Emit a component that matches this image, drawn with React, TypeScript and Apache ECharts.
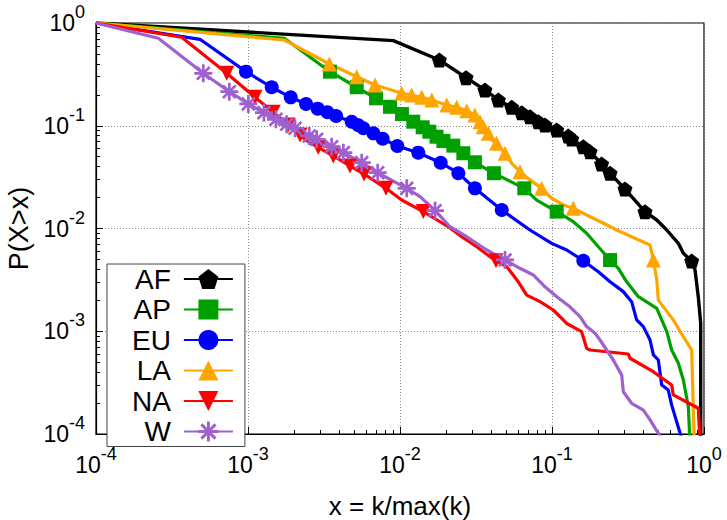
import React, { useEffect, useRef } from "react";
import * as echarts from "echarts";

// ---- data ----
const afX = [1e-4, 0.00904, 0.01815, 0.0272, 0.0362, 0.0444, 0.0543, 0.0632, 0.0716, 0.0813, 0.0899, 0.1074, 0.128, 0.1348, 0.1607, 0.178, 0.212, 0.241, 0.302, 0.409, 0.489, 0.569, 0.678, 0.731, 0.83, 0.873, 0.917, 0.951, 0.952];
const afY = [1, 0.673, 0.436, 0.294, 0.223, 0.178, 0.151, 0.134, 0.1225, 0.1095, 0.1017, 0.0909, 0.0795, 0.0743, 0.0625, 0.0559, 0.0425, 0.0345, 0.0242, 0.01458, 0.0121, 0.00967, 0.00717, 0.00573, 0.00482, 0.00394, 0.00217, 0.0012, 0.00008];
const afMarks = [2, 3, 4, 5, 6, 7, 8, 9, 10, 11, 12, 13, 14, 15, 16, 17, 18, 19, 24];

const apX = [1e-4, 0.001734, 0.00346, 0.00519, 0.00695, 0.00859, 0.0103, 0.01223, 0.0141, 0.0156, 0.0174, 0.0193, 0.02243, 0.0261, 0.0311, 0.0415, 0.0657, 0.0793, 0.1074, 0.138, 0.169, 0.2017, 0.241, 0.273, 0.31, 0.37, 0.489, 0.569, 0.613, 0.678, 0.731, 0.789, 0.809];
const apY = [1, 0.71, 0.336, 0.237, 0.185, 0.153, 0.13, 0.1095, 0.0966, 0.0875, 0.0782, 0.0711, 0.064, 0.054, 0.0441, 0.0345, 0.0246, 0.0189, 0.0146, 0.01165, 0.00898, 0.00665, 0.00493, 0.0041, 0.00303, 0.00217, 0.00167, 0.00099, 0.000657, 0.000488, 0.000336, 0.000184, 0.00008];
const apMarks = [2, 3, 4, 5, 6, 7, 8, 9, 10, 11, 12, 13, 14, 15, 16, 18, 22];

const euX = [1e-4, 0.000483, 0.00097, 0.001432, 0.00191, 0.00241, 0.002875, 0.00333, 0.0038, 0.00481, 0.00532, 0.00574, 0.00668, 0.00769, 0.0096, 0.01319, 0.01852, 0.0242, 0.0311, 0.0467, 0.0716, 0.0995, 0.125, 0.1607, 0.2017, 0.241, 0.2946, 0.334, 0.3605, 0.399, 0.4415, 0.4645, 0.5005, 0.527, 0.582, 0.613, 0.731];
const euY = [1, 0.694, 0.336, 0.237, 0.189, 0.163, 0.1466, 0.1352, 0.1245, 0.1095, 0.101, 0.0945, 0.0844, 0.0748, 0.0635, 0.0547, 0.0437, 0.0345, 0.0246, 0.01514, 0.00967, 0.00717, 0.00618, 0.00486, 0.0038, 0.00303, 0.00243, 0.00194, 0.00129, 0.00111, 0.000822, 0.000588, 0.000525, 0.0003, 0.000268, 0.000191, 0.00008];
const euMarks = [2, 3, 4, 5, 6, 7, 8, 9, 10, 11, 12, 13, 14, 15, 16, 17, 18, 19, 23];

const laX = [1e-4, 0.001734, 0.00343, 0.00519, 0.00686, 0.01026, 0.01193, 0.0139, 0.01617, 0.0203, 0.0236, 0.0275, 0.0311, 0.0336, 0.0353, 0.0381, 0.0401, 0.0432, 0.0491, 0.0543, 0.0616, 0.0716, 0.0855, 0.0995, 0.1186, 0.138, 0.169, 0.218, 0.2666, 0.334, 0.4415, 0.4645, 0.489, 0.5005, 0.628, 0.731, 0.83, 0.863];
const laY = [1, 0.683, 0.399, 0.3, 0.249, 0.207, 0.199, 0.189, 0.178, 0.159, 0.151, 0.14, 0.127, 0.1095, 0.098, 0.0844, 0.0727, 0.0675, 0.054, 0.0431, 0.0357, 0.0297, 0.0246, 0.0197, 0.01694, 0.01573, 0.01353, 0.01124, 0.00967, 0.00832, 0.0069, 0.00494, 0.00315, 0.00201, 0.00129, 0.000885, 0.000657, 0.00008];
const laMarks = [2, 3, 4, 5, 6, 7, 8, 9, 10, 11, 12, 13, 14, 15, 17, 18, 20, 22, 25, 31];

const naX = [1e-4, 0.000366, 0.000725, 0.001112, 0.001466, 0.00184, 0.0022, 0.00249, 0.0029, 0.00364, 0.00469, 0.0058, 0.00809, 0.01026, 0.01423, 0.0208, 0.02546, 0.03196, 0.0391, 0.0428, 0.0504, 0.06, 0.0682, 0.0834, 0.102, 0.125, 0.1567, 0.169, 0.178, 0.318, 0.326, 0.464, 0.613, 0.628, 0.917, 0.942];
const naY = [1, 0.726, 0.324, 0.189, 0.1356, 0.1017, 0.0813, 0.07, 0.0617, 0.0508, 0.0406, 0.0339, 0.0246, 0.01894, 0.0146, 0.0104, 0.00832, 0.00665, 0.00532, 0.00486, 0.00425, 0.00303, 0.00225, 0.00194, 0.00161, 0.00119, 0.00099, 0.000682, 0.000657, 0.000601, 0.000546, 0.000404, 0.0003, 0.00024, 0.000178, 0.00008];
const naMarks = [2, 3, 4, 5, 6, 8, 9, 10, 11, 12, 14, 19];

const wX = [1e-4, 0.000257, 0.000508, 0.000754, 0.001005, 0.001274, 0.001527, 0.001797, 0.002039, 0.00253, 0.00283, 0.00355, 0.00424, 0.0056, 0.00713, 0.01107, 0.01355, 0.017, 0.02133, 0.0275, 0.0372, 0.0491, 0.0616, 0.0753, 0.0899, 0.1074, 0.1313, 0.1528, 0.169, 0.192, 0.207, 0.253, 0.2874, 0.2946, 0.334, 0.399, 0.4415, 0.5535];
const wY = [1, 0.71, 0.324, 0.2145, 0.163, 0.134, 0.1155, 0.1033, 0.0945, 0.0795, 0.0738, 0.0625, 0.0547, 0.0437, 0.0349, 0.0246, 0.0204, 0.0149, 0.0104, 0.00832, 0.00618, 0.00494, 0.0041, 0.00353, 0.00271, 0.00217, 0.00173, 0.00139, 0.00111, 0.000955, 0.000822, 0.000525, 0.000375, 0.000258, 0.000199, 0.000171, 0.000137, 0.00008];
const wMarks = [2, 3, 4, 5, 6, 7, 8, 9, 10, 11, 12, 13, 14, 15, 17, 21];

const minorTicks = [
  2e-4, 3e-4, 4e-4, 5e-4, 6e-4, 7e-4, 8e-4, 9e-4,
  2e-3, 3e-3, 4e-3, 5e-3, 6e-3, 7e-3, 8e-3, 9e-3,
  2e-2, 3e-2, 4e-2, 5e-2, 6e-2, 7e-2, 8e-2, 9e-2,
  0.2, 0.3, 0.4, 0.5, 0.6, 0.7, 0.8, 0.9,
];

const FONT = "Liberation Sans, Arial, sans-serif";

const PENTAGON = "path://M0,-10 L9.51,-3.09 L5.88,8.09 L-5.88,8.09 L-9.51,-3.09 Z";
const TRI_DOWN = "path://M-10,-8.66 L10,-8.66 L0,8.66 Z";
const ASTERISK =
  "path://M-10,-1.5 L10,-1.5 L10,1.5 L-10,1.5 Z M-1.5,-10 L1.5,-10 L1.5,10 L-1.5,10 Z " +
  "M6.01,8.13 L-8.13,-6.01 L-6.01,-8.13 L8.13,6.01 Z M-8.13,6.01 L6.01,-8.13 L8.13,-6.01 L-6.01,8.13 Z";

function makeSeries(name: string, color: string, symbol: string, size: number, xs: number[], ys: number[], marks: number[], width = 3.2) {
  return {
    type: "line",
    name,
    xAxisIndex: 0,
    yAxisIndex: 0,
    symbol,
    symbolSize: size,
    showSymbol: true,
    clip: true,
    lineStyle: { color, width },
    itemStyle: { color },
    emphasis: { disabled: true },
    data: xs.map((x, i) => ({
      value: [x, ys[i]],
      symbol: marks.indexOf(i) >= 0 ? symbol : "none",
    })),
  };
}

const powLabel = (v: number) => `{b|10}{s|${Math.round(Math.log10(v))}}`;
const richLabel = {
  b: { fontSize: 23, fontFamily: FONT, color: "#000", lineHeight: 40 },
  s: { fontSize: 18, fontFamily: FONT, color: "#000", lineHeight: 18, verticalAlign: "top" },
};

export default function App() {
  const ref = useRef<HTMLDivElement>(null);
  useEffect(() => {
    if (!ref.current) return;
    const chart = echarts.init(ref.current, undefined, { renderer: "svg" });
    const minorAxisCommon = {
      type: "log",
      logBase: 10,
      min: 1e-4,
      max: 1,
      gridIndex: 0,
      axisLine: { show: false },
      axisLabel: { show: false },
      splitLine: { show: false },
      axisTick: { show: true, inside: true, length: 4, customValues: minorTicks, lineStyle: { color: "#000", width: 1 } },
    };
    chart.setOption({
      animation: false,
      backgroundColor: "#fff",
      grid: {
        left: 96,
        right: 23,
        top: 23,
        bottom: 86,
        containLabel: false,
        outerBoundsMode: "none",
        show: true,
        borderColor: "#000",
        borderWidth: 1.2,
        backgroundColor: "transparent",
      },
      legend: {
        show: true,
        orient: "vertical",
        left: 107,
        top: 264,
        align: "right",
        itemWidth: 49,
        itemHeight: 25,
        itemGap: 2.5,
        padding: [1, 11, 1, 25],
        borderColor: "#444",
        borderWidth: 1,
        backgroundColor: "#fff",
        selectedMode: false,
        textStyle: { fontSize: 28, fontFamily: FONT, color: "#000", lineHeight: 25, padding: [0, 8, 0, 0] },
        data: ["AF", "AP", "EU", "LA", "NA", "W"],
      },
      xAxis: [
        {
          type: "log",
          logBase: 10,
          min: 1e-4,
          max: 1,
          name: "x = k/max(k)",
          nameLocation: "middle",
          nameGap: 59,
          nameTextStyle: { fontSize: 26, fontFamily: FONT, color: "#000" },
          axisLine: { show: true, lineStyle: { color: "#000", width: 1.2 } },
          axisTick: { show: true, inside: true, length: 7, lineStyle: { color: "#000" } },
          axisLabel: { margin: 11, formatter: powLabel, rich: richLabel },
          splitLine: { show: true, lineStyle: { color: "#888", type: [1, 2], width: 1 } },
        },
        { ...minorAxisCommon, position: "bottom" },
      ],
      yAxis: [
        {
          type: "log",
          logBase: 10,
          min: 1e-4,
          max: 1,
          name: "P(X>x)",
          nameLocation: "middle",
          nameGap: 58,
          nameTextStyle: { fontSize: 27, fontFamily: FONT, color: "#000" },
          axisLine: { show: true, lineStyle: { color: "#000", width: 1.2 } },
          axisTick: { show: true, inside: true, length: 7, lineStyle: { color: "#000" } },
          axisLabel: { margin: 11, formatter: powLabel, rich: richLabel },
          splitLine: { show: true, lineStyle: { color: "#888", type: [1, 2], width: 1 } },
        },
        { ...minorAxisCommon, position: "left" },
      ],
      series: [
        makeSeries("AF", "#000000", PENTAGON, 15, afX, afY, afMarks, 3.4),
        makeSeries("AP", "#00a000", "rect", 14, apX, apY, apMarks),
        makeSeries("EU", "#0000ff", "circle", 14, euX, euY, euMarks),
        makeSeries("LA", "#ffa500", "triangle", 15, laX, laY, laMarks),
        makeSeries("NA", "#ff0000", TRI_DOWN, 15, naX, naY, naMarks),
        makeSeries("W", "#a060d0", ASTERISK, 18, wX, wY, wMarks),
      ],
    });
    return () => chart.dispose();
  }, []);
  return <div ref={ref} style={{ position: "fixed", left: 0, top: 0, width: 727, height: 520 }} />;
}
